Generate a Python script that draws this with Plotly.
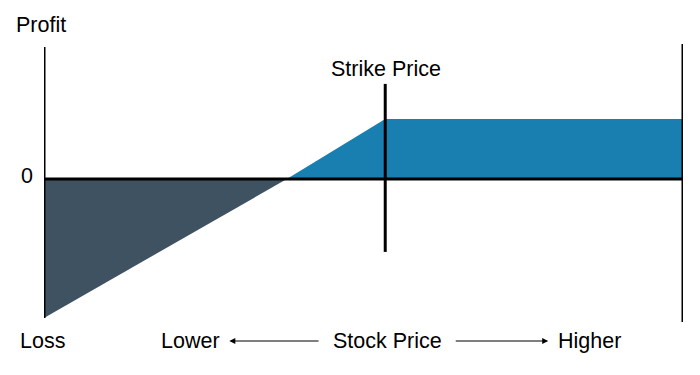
import plotly.graph_objects as go

# Data (stock price in arbitrary units, profit in arbitrary units)
stock_price = [0, 38, 53.4, 100]
profit = [-46.3, 0, 20, 20]
strike_price = 53.4
breakeven = 38

# Axis line extents
left_axis_y = [44, -46.3]
right_axis_y = [45, -47.7]
strike_line_y = [31.7, -24.3]

labels = {"profit": "Profit", "loss": "Loss", "zero": "0", "strike": "Strike Price",
          "lower": "Lower", "stock": "Stock Price", "higher": "Higher"}

FONT = "Liberation Sans"
FS = 21.5
fig = go.Figure()

# Loss region
fig.add_trace(go.Scatter(
    x=[stock_price[0], stock_price[0], stock_price[1]],
    y=[0, profit[0], profit[1]],
    fill="toself", fillcolor="#3f5262", mode="lines", line=dict(width=0),
    hoverinfo="skip", showlegend=False))
# Profit region
fig.add_trace(go.Scatter(
    x=[stock_price[1], stock_price[2], stock_price[3], stock_price[3]],
    y=[profit[1], profit[2], profit[3], 0],
    fill="toself", fillcolor="#187fb0", mode="lines", line=dict(width=0),
    hoverinfo="skip", showlegend=False))

lw = 3
# Zero line
fig.add_trace(go.Scatter(x=[stock_price[0], stock_price[-1]], y=[0, 0], mode="lines",
                         line=dict(color="black", width=lw), hoverinfo="skip", showlegend=False))
# Left axis
fig.add_trace(go.Scatter(x=[stock_price[0]] * 2, y=left_axis_y, mode="lines",
                         line=dict(color="black", width=lw), hoverinfo="skip", showlegend=False))
# Right axis
fig.add_trace(go.Scatter(x=[stock_price[-1]] * 2, y=right_axis_y, mode="lines",
                         line=dict(color="black", width=lw), hoverinfo="skip", showlegend=False))
# Strike line
fig.add_trace(go.Scatter(x=[strike_price] * 2, y=strike_line_y, mode="lines",
                         line=dict(color="black", width=lw), hoverinfo="skip", showlegend=False))

def txt(x, y, s, xref="x"):
    fig.add_annotation(x=x, y=y, text=s, showarrow=False, xanchor="center", yanchor="middle",
                       xref=xref, yref="y",
                       font=dict(family=FONT, size=FS, color="black"))

txt(-0.004, 51.3, labels["profit"], "paper")
txt(-0.003, -54, labels["loss"], "paper")
txt(-0.026, 1, labels["zero"], "paper")
txt(53.5, 36.7, labels["strike"])
txt(23, -54, labels["lower"])
txt(53.7, -54, labels["stock"])
txt(85.3, -54, labels["higher"])

# Arrows
fig.add_annotation(x=29, y=-54, ax=43.2, ay=-54, xref="x", yref="y", axref="x", ayref="y",
                   showarrow=True, arrowhead=2, arrowsize=1, arrowwidth=1.2, arrowcolor="black", text="")
fig.add_annotation(x=78.9, y=-54, ax=64.2, ay=-54, xref="x", yref="y", axref="x", ayref="y",
                   showarrow=True, arrowhead=2, arrowsize=1, arrowwidth=1.2, arrowcolor="black", text="")

fig.update_layout(
    width=700, height=375, margin=dict(l=44, r=17, t=0, b=0),
    plot_bgcolor="white", paper_bgcolor="white",
    xaxis=dict(range=[0, 100], visible=False, fixedrange=True),
    yaxis=dict(range=[-65.33, 59.67], visible=False, fixedrange=True),
)
fig.write_html("out.html")
